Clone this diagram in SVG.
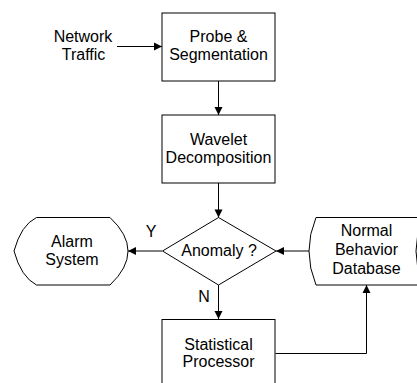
<svg xmlns="http://www.w3.org/2000/svg" width="417" height="383" viewBox="0 0 417 383">
<style>
.s{fill:#fff;stroke:#000;stroke-width:1}
.c{fill:none;stroke:#000;stroke-width:1}
text{font-family:"Liberation Sans",Arial,sans-serif;font-size:16px;fill:#000;text-anchor:middle}
</style>
<defs>
<marker id="a" markerUnits="userSpaceOnUse" markerWidth="10" markerHeight="10" viewBox="0 0 10 10" refX="9" refY="5" orient="auto">
<path d="M1,1 L9,5 L1,9 Z" fill="#000"/>
</marker>
</defs>
<rect width="417" height="383" fill="#fff"/>
<g id="connectors">
<line class="c" x1="117" y1="46.5" x2="162" y2="46.5" marker-end="url(#a)"/>
<line class="c" x1="218.5" y1="81" x2="218.5" y2="115" marker-end="url(#a)"/>
<line class="c" x1="218.5" y1="183" x2="218.5" y2="217.5" marker-end="url(#a)"/>
<line class="c" x1="162" y1="251" x2="128" y2="251" marker-end="url(#a)"/>
<line class="c" x1="309.5" y1="251" x2="276" y2="251" marker-end="url(#a)"/>
<line class="c" x1="218.5" y1="285" x2="218.5" y2="319" marker-end="url(#a)"/>
<polyline class="c" points="275.5,353.5 366.5,353.5 366.5,285" marker-end="url(#a)"/>
<text x="151" y="237">Y</text>
<text x="204" y="302">N</text>
</g>
<g id="network-traffic">
<text x="83" y="42">Network</text>
<text x="83.5" y="60">Traffic</text>
</g>
<g id="probe">
<rect class="s" x="162" y="13" width="113" height="68"/>
<text x="218.5" y="42">Probe &amp;</text>
<text x="218.5" y="60">Segmentation</text>
</g>
<g id="wavelet">
<rect class="s" x="162" y="115" width="113" height="68"/>
<text x="218.5" y="145">Wavelet</text>
<text x="218.5" y="163">Decomposition</text>
</g>
<g id="anomaly">
<polygon class="s" points="162.5,251 218.5,217.5 276,251 218.5,285"/>
<text x="219" y="256">Anomaly ?</text>
</g>
<g id="alarm">
<path class="s" d="M36.5,217.5 L110,217.5 Q146,251 110,285 L36.5,285 Q21,277 14,251 Q21,225 36.5,217.5 Z"/>
<text x="72" y="247">Alarm</text>
<text x="72" y="264.5">System</text>
</g>
<g id="database">
<path class="s" d="M316,217.5 L423,217.5 Q409,251 423,285 L316,285 Q302,251 316,217.5 Z"/>
<text x="366.5" y="236">Normal</text>
<text x="366.5" y="255">Behavior</text>
<text x="366.5" y="274">Database</text>
</g>
<g id="statistical">
<rect class="s" x="162" y="319.5" width="113" height="70"/>
<text x="218.5" y="349.5">Statistical</text>
<text x="218.5" y="367">Processor</text>
</g>
</svg>
